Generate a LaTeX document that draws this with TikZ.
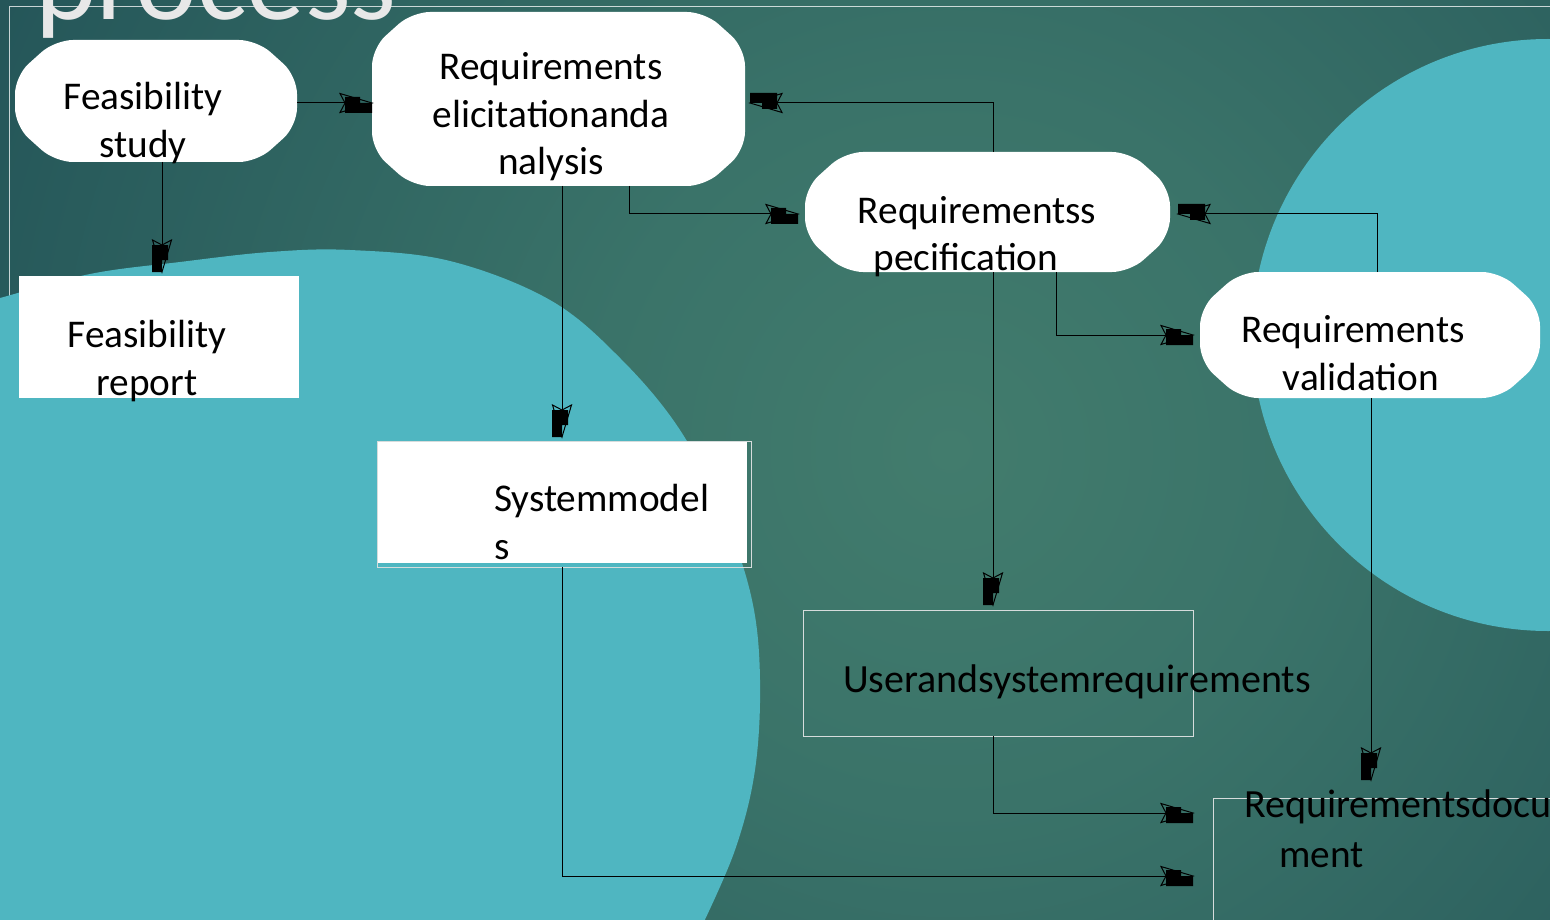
\documentclass[tikz,border=0pt]{standalone}
\usepackage{fontspec}
\setmainfont{Carlito}
\definecolor{glowin}{HTML}{427C6D}
\definecolor{glowmid}{HTML}{3A7369}
\definecolor{glowlow}{HTML}{26585A}
\definecolor{glowout}{HTML}{1B4451}
\definecolor{disc}{HTML}{4FB6C1}
\definecolor{rule}{HTML}{D6DCDC}
\definecolor{titlegray}{HTML}{E8E8E8}

\pgfdeclareradialshading{bgglow}{\pgfpoint{0bp}{0bp}}{%
  color(0bp)=(glowin); color(9bp)=(glowmid); color(25bp)=(glowlow);
  color(36bp)=(glowout); color(70bp)=(glowout)}

% open wedge head with a solid block laid over it
\pgfdeclarearrow{
  name = Blk,
  setup code = {
    \pgfarrowssettipend{0pt}
    \pgfarrowssetlineend{-20pt}
    \pgfarrowssetbackend{-32pt}
    \pgfarrowsupperhullpoint{-32pt}{9.5pt}
    \pgfarrowsupperhullpoint{0pt}{0pt}
  },
  drawing code = {
    \pgfsetdash{}{0pt}
    \pgfpathmoveto{\pgfqpoint{-27pt}{6pt}}
    \pgfpathlineto{\pgfqpoint{-12pt}{6pt}}
    \pgfpathlineto{\pgfqpoint{-12pt}{0pt}}
    \pgfpathlineto{\pgfqpoint{0pt}{0pt}}
    \pgfpathlineto{\pgfqpoint{0pt}{-10pt}}
    \pgfpathlineto{\pgfqpoint{-27pt}{-10pt}}
    \pgfpathclose
    \pgfusepathqfill
    \pgfpathmoveto{\pgfqpoint{-32pt}{9.5pt}}
    \pgfpathlineto{\pgfqpoint{0pt}{0pt}}
    \pgfpathlineto{\pgfqpoint{-32pt}{-9.5pt}}
    \pgfpathlineto{\pgfqpoint{-27pt}{0pt}}
    \pgfpathclose
    \pgfusepathqstroke
  }
}

% white octagon with softened corners, laid over a named node
\newcommand\softoct[1]{%
  \fill[white, rounded corners=18pt]
    ([xshift=40pt]#1.north west) -- ([xshift=-40pt]#1.north east)
    -- ([yshift=-36pt]#1.north east) -- ([yshift=36pt]#1.south east)
    -- ([xshift=-40pt]#1.south east) -- ([xshift=40pt]#1.south west)
    -- ([yshift=36pt]#1.south west) -- ([yshift=-36pt]#1.north west) -- cycle;}

\tikzset{
  roundbox/.style={inner sep=0pt, outer sep=0pt},
  plainbox/.style={fill=white, inner sep=0pt, outer sep=0pt},
  framebox/.style={draw=rule, line width=1pt, inner sep=0pt, outer sep=0pt},
  lbl/.style={inner sep=0pt, font=\fontsize{39.3}{48}\selectfont, text=black},
  conn/.style={draw=black, line width=1pt, -Blk},
}

\begin{document}
\begin{tikzpicture}[x=1pt, y=-1pt]
\useasboundingbox (0,0) rectangle (1550,920);
\clip (0,0) rectangle (1550,920);

% background glow
\shade[shading=bgglow] (-50,-550) rectangle (1950,1450);

% slide frame
\draw[white, opacity=0.75, line width=1pt] (9,930) -- (9,7) -- (1560,7);

% large discs
\fill[disc] plot[smooth, tension=0.6] coordinates {
  (-10,300) (0,298) (90,274) (180,262) (270,252) (350,250) (450,261)
  (550,300) (620,358) (680,430) (725,518) (752,600) (760,680)
  (755,770) (735,850) (700,930)} -- (-10,930) -- cycle;
\fill[disc] (1548,335) circle[radius=296];

% title
\node[anchor=base west, inner sep=0pt, text=titlegray,
      font=\fontsize{117}{120}\selectfont] (title) at (35,20) {process};

% boxes
\node[roundbox, minimum width=282pt, minimum height=122pt] (fstudy) at (156,101) {};
\node[roundbox, minimum width=373pt, minimum height=174pt] (relicit) at (558.5,99) {};
\node[roundbox, minimum width=365pt, minimum height=120pt] (rspec) at (987.5,212) {};
\node[roundbox, minimum width=340pt, minimum height=126pt] (rvalid) at (1370,335) {};
\softoct{fstudy}
\softoct{relicit}
\softoct{rspec}
\softoct{rvalid}
\node[plainbox, minimum width=280pt, minimum height=122pt] (freport) at (159,337) {};
\fill[white] (377,441) rectangle (747,563);
\node[framebox, minimum width=374pt, minimum height=126pt] (smodels) at (564,504) {};
\node[framebox, minimum width=390pt, minimum height=126pt] (usreq) at (998,673) {};
\node[framebox, minimum width=352pt, minimum height=127pt] (rdoc) at (1389,861.5) {};

% connectors
\draw[conn] ([yshift=-2pt]fstudy.east) -- ([yshift=-2pt]fstudy.east -| relicit.west);
\draw[conn, shorten >=4pt] ([xshift=6pt]fstudy.south) -- ([xshift=6pt]fstudy.south |- freport.north);
\draw[conn, shorten >=7pt] ([xshift=70.5pt]relicit.south) |- ([yshift=-2pt]rspec.west);
\draw[conn, shorten >=5pt] ([xshift=5.5pt]rspec.north) |- ([yshift=-4pt]relicit.east);
\draw[conn, shorten >=4pt] ([xshift=3.5pt]relicit.south) -- ([xshift=3.5pt]relicit.south |- smodels.north);
\draw[conn, shorten >=5pt] ([xshift=5.5pt]rspec.south) -- ([xshift=5.5pt]rspec.south |- usreq.north);
\draw[conn, shorten >=7pt] ([xshift=68.5pt]rspec.south) |- (rvalid.west);
\draw[conn, shorten >=8pt] ([xshift=7pt]rvalid.north) |- ([yshift=-2pt]rspec.east);
\draw[conn, shorten >=18pt] ([xshift=1pt]rvalid.south) -- ([xshift=1pt]rvalid.south |- rdoc.north);
\draw[conn, shorten >=20pt] ([xshift=-5pt]usreq.south) |- ([yshift=48.5pt]rdoc.west);
\draw[conn, shorten >=20pt] ([xshift=-2pt]smodels.south) |- ([yshift=-14.5pt]rdoc.west);

% labels
\node[lbl, anchor=base] (fs1) at (143,110) {Feasibility};
\node[lbl, anchor=base] (fs2) at (143,158) {study};
\node[lbl, anchor=base] (re1) at (551,80) {Requirements};
\node[lbl, anchor=base] (re2) at (551,128) {elicitationanda};
\node[lbl, anchor=base] (re3) at (551,175) {nalysis};
\node[lbl, anchor=base] (rs1) at (977,223) {Requirementss};
\node[lbl, anchor=base] (rs2) at (966,270) {pecification};
\node[lbl, anchor=base] (rv1) at (1353,342) {Requirements};
\node[lbl, anchor=base] (rv2) at (1361,390) {validation};
\node[lbl, anchor=base] (fr1) at (147,347) {Feasibility};
\node[lbl, anchor=base] (fr2) at (147,395) {report};
\node[lbl, anchor=base west] (sm1) at (494,511) {Systemmodel};
\node[lbl, anchor=base west] (sm2) at (494,559) {s};
\node[lbl, anchor=base west, font=\fontsize{40}{48}\selectfont] (us1) at (843,692) {Userandsystemrequirements};
\node[lbl, anchor=base west, font=\fontsize{40}{48}\selectfont] (rd1) at (1244,817) {Requirementsdocu};
\node[lbl, anchor=base west] (rd2) at (1279,867) {ment};
\end{tikzpicture}
\end{document}
